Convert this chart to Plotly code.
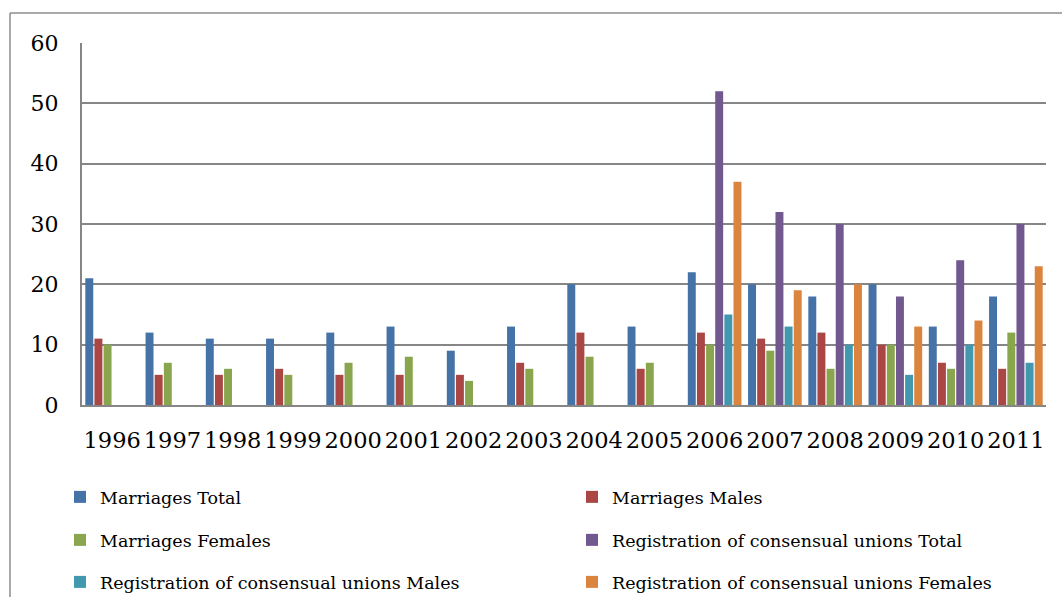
import plotly.graph_objects as go

years = ["1996", "1997", "1998", "1999", "2000", "2001", "2002", "2003",
         "2004", "2005", "2006", "2007", "2008", "2009", "2010", "2011"]

marriages_total = [21, 12, 11, 11, 12, 13, 9, 13, 20, 13, 22, 20, 18, 20, 13, 18]
marriages_males = [11, 5, 5, 6, 5, 5, 5, 7, 12, 6, 12, 11, 12, 10, 7, 6]
marriages_females = [10, 7, 6, 5, 7, 8, 4, 6, 8, 7, 10, 9, 6, 10, 6, 12]
unions_total = [None] * 10 + [52, 32, 30, 18, 24, 30]
unions_males = [None] * 10 + [15, 13, 10, 5, 10, 7]
unions_females = [None] * 10 + [37, 19, 20, 13, 14, 23]

series = [
    ("Marriages Total", marriages_total, "#4572A7", "legend"),
    ("Marriages Males", marriages_males, "#AA4643", "legend"),
    ("Marriages Females", marriages_females, "#89A54E", "legend2"),
    ("Registration of consensual unions Total", unions_total, "#71588F", "legend2"),
    ("Registration of consensual unions Males", unions_males, "#4198AF", "legend3"),
    ("Registration of consensual unions Females", unions_females, "#DB843D", "legend3"),
]

FONT = "DejaVu Serif"

fig = go.Figure()
for name, vals, color, leg in series:
    fig.add_trace(go.Bar(
        x=years, y=vals, name=name, legend=leg,
        marker=dict(color=color, line=dict(width=0)),
    ))

W, H = 1062, 597
L, R, T, B = 82, 16, 43, 192
pw, ph = W - L - R, H - T - B


def px_x(x):
    return (x - L) / pw


def px_y(y):
    return (H - B - y) / ph


legend_common = dict(
    orientation="h", entrywidth=467, entrywidthmode="pixels",
    font=dict(family=FONT, size=17.5, color="#000000"),
    bgcolor="rgba(0,0,0,0)", itemwidth=30,
    xanchor="left", yanchor="middle", traceorder="normal",
)

fig.update_layout(
    width=W, height=H,
    margin=dict(l=L, r=R, t=T, b=B, autoexpand=False),
    paper_bgcolor="white", plot_bgcolor="white",
    barmode="group", bargap=0.09, bargroupgap=0.13,
    font=dict(family=FONT, color="#000000"),
    xaxis=dict(
        type="category", showgrid=False, showline=True,
        linecolor="#868686", linewidth=2, ticks="",
        tickangle=0,
        tickfont=dict(family=FONT, size=22.5, color="#000000"),
        ticklabelstandoff=14,
    ),
    yaxis=dict(
        range=[0, 60], dtick=10, showgrid=True, gridcolor="#868686",
        gridwidth=2, showline=True, linecolor="#868686", linewidth=2,
        ticks="", zeroline=False,
        tickfont=dict(family=FONT, size=22, color="#000000"),
        ticklabelstandoff=17,
    ),
    legend=dict(x=px_x(60), y=px_y(497), **legend_common),
    legend2=dict(x=px_x(60), y=px_y(540), **legend_common),
    legend3=dict(x=px_x(60), y=px_y(582), **legend_common),
    shapes=[
        dict(type="line", xref="paper", yref="paper",
             x0=px_x(10), x1=px_x(1070), y0=px_y(13), y1=px_y(13),
             line=dict(color="#8c8c8c", width=1.5)),
        dict(type="line", xref="paper", yref="paper",
             x0=px_x(10), x1=px_x(10), y0=px_y(13), y1=px_y(605),
             line=dict(color="#8c8c8c", width=1.5)),
    ],
)

fig.write_html("out.html")
